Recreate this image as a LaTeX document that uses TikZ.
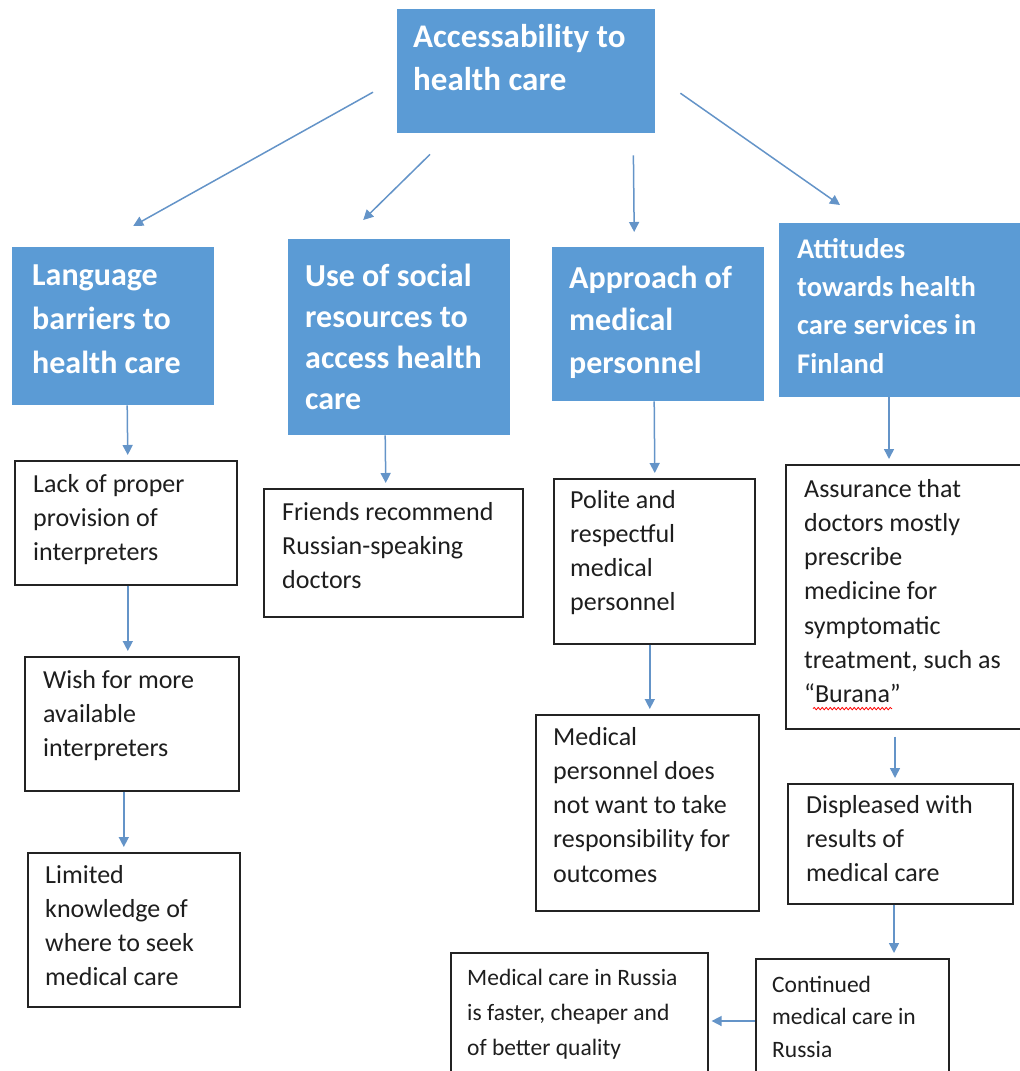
\documentclass[tikz,border=0pt]{standalone}
\usepackage{fontspec}
\setmainfont{Carlito}
\usetikzlibrary{arrows.meta,calc,decorations.pathmorphing}
\definecolor{hblue}{RGB}{91,155,213}
\definecolor{arrc}{RGB}{100,148,200}
\definecolor{bord}{RGB}{35,35,35}
\definecolor{txtc}{RGB}{30,30,30}
\tikzset{
 bluebox/.style={fill=hblue, draw=none, anchor=north west, inner sep=0pt},
 whitebox/.style={draw=bord, line width=1.6pt, fill=white, anchor=north west, inner sep=0pt},
 hdr/.style={anchor=base west, align=left, inner sep=0pt, text=white, font=\bfseries\fontsize{32}{42.5}\selectfont},
 txt/.style={anchor=base west, align=left, inner sep=0pt, text=txtc, font=\fontsize{26}{34.3}\selectfont},
 txtsmall/.style={anchor=base west, align=left, inner sep=0pt, text=txtc, font=\fontsize{23.5}{34}\selectfont},
 arr/.style={draw=arrc, line width=1.5pt, -{Triangle[length=10pt,width=10pt]}},
 varr/.style={arr, shorten >=5pt},
}
\begin{document}
\begin{tikzpicture}[x=1pt,y=-1pt]
\useasboundingbox (0,0) rectangle (1020,1071);
% blue header boxes (text nodes are anchored at the baseline of their last line)
\node[bluebox, minimum width=258, minimum height=124] (top) at (397,9) {};
\node[hdr, font=\bfseries\fontsize{33}{43}\selectfont] (topT) at (413,90) {Accessability to\\health care};
\node[bluebox, minimum width=202, minimum height=158] (lang) at (12,247) {};
\node[hdr, font=\bfseries\fontsize{32}{44}\selectfont] (langT) at (32,373) {Language\\barriers to\\health care};
\node[bluebox, minimum width=222, minimum height=196] (social) at (288,239) {};
\node[hdr, font=\bfseries\fontsize{32}{41}\selectfont] (socialT) at (305,409) {Use of social\\resources to\\access health\\care};
\node[bluebox, minimum width=212, minimum height=154] (appr) at (552,247) {};
\node[hdr] (apprT) at (569,373) {Approach of\\medical\\personnel};
\node[bluebox, minimum width=250, minimum height=174] (att) at (779,223) {};
\node[hdr, font=\bfseries\fontsize{28.5}{38.3}\selectfont] (attT) at (797,373) {Attitudes\\towards health\\care services in\\Finland};
% white boxes
\node[whitebox, minimum width=222, minimum height=124] (lack) at (14,460) {};
\node[txt] (lackT) at (33,560.6) {Lack of proper\\provision of\\interpreters};
\node[whitebox, minimum width=214, minimum height=134] (wish) at (24,656) {};
\node[txt] (wishT) at (43,756.6) {Wish for more\\available\\interpreters};
\node[whitebox, minimum width=212, minimum height=154] (limited) at (27,852) {};
\node[txt] (limitedT) at (45,985.9) {Limited\\knowledge of\\where to seek\\medical care};
\node[whitebox, minimum width=259, minimum height=128] (friends) at (263,488) {};
\node[txt] (friendsT) at (282,588.6) {Friends recommend\\Russian-speaking\\doctors};
\node[whitebox, minimum width=201, minimum height=165] (polite) at (553,478) {};
\node[txt] (politeT) at (570,610.9) {Polite and\\respectful\\medical\\personnel};
\node[whitebox, minimum width=223, minimum height=196] (medical) at (535,714) {};
\node[txt] (medicalT) at (553,882.2) {Medical\\personnel does\\not want to take\\responsibility for\\outcomes};
\node[whitebox, minimum width=245, minimum height=264] (assur) at (785,464) {};
\node[txt] (assurT) at (804,702.8) {Assurance that\\doctors mostly\\prescribe\\medicine for\\symptomatic\\treatment, such as\\“Burana”};
\draw[red, line width=0.8pt, decorate, decoration={snake, amplitude=1.2pt, segment length=4pt}] ($(assur.south west)+(28,-21)$) -- ++(79,0);
\node[whitebox, minimum width=225, minimum height=120] (displ) at (787,783) {};
\node[txt] (displT) at (806,881.6) {Displeased with\\results of\\medical care};
\node[whitebox, minimum width=193, minimum height=130] (cont) at (755,958) {};
\node[txtsmall, font=\fontsize{23.5}{32.5}\selectfont] (contT) at (772,1057) {Continued\\medical care in\\Russia};
\node[whitebox, minimum width=257, minimum height=130] (russia) at (450,952) {};
\node[txtsmall, font=\fontsize{23.5}{35}\selectfont] (russiaT) at (467,1055) {Medical care in Russia\\is faster, cheaper and\\of better quality};
% connectors
\draw[arr] ($(top.west)+(-24,21)$) -- ($(lang.north)+(20,-21)$);
\draw[arr] ($(top.south west)+(33,21)$) -- ($(social.north)+(-36,-19)$);
\draw[arr] ($(top.south east)+(-22,22)$) -- ($(appr.north)+(-24,-15)$);
\draw[arr] ($(top.east)+(25,22)$) -- ($(att.north west)+(61,-18)$);
\draw[varr] ($(lang.south)+(14,0)$) -- ($(lack.north)+(2,0)$);
\draw[varr] ($(lack.south)+(2,0)$) -- ($(wish.north)+(-4,0)$);
\draw[varr] ($(wish.south)+(-8,0)$) -- ($(limited.north)+(-10,0)$);
\draw[varr] ($(social.south)+(-14,0)$) -- ($(friends.north)+(-7.5,0)$);
\draw[varr] ($(appr.south)+(-4,0)$) -- ($(polite.north)+(0.5,0)$);
\draw[varr] ($(polite.south)+(-4.5,0)$) -- ($(medical.north)+(2.5,0)$);
\draw[varr] ($(att.south west)+(110,0)$) -- ($(assur.north west)+(104,0)$);
\draw[varr, shorten <=7pt] ($(assur.south west)+(110,0)$) -- ($(displ.north west)+(108,0)$);
\draw[varr] ($(displ.south west)+(107,0)$) -- ($(cont.north west)+(139,0)$);
\draw[arr, shorten >=3pt] ($(cont.north west)+(0,63)$) -- ($(russia.north east)+(0,69)$);
\end{tikzpicture}
\end{document}
